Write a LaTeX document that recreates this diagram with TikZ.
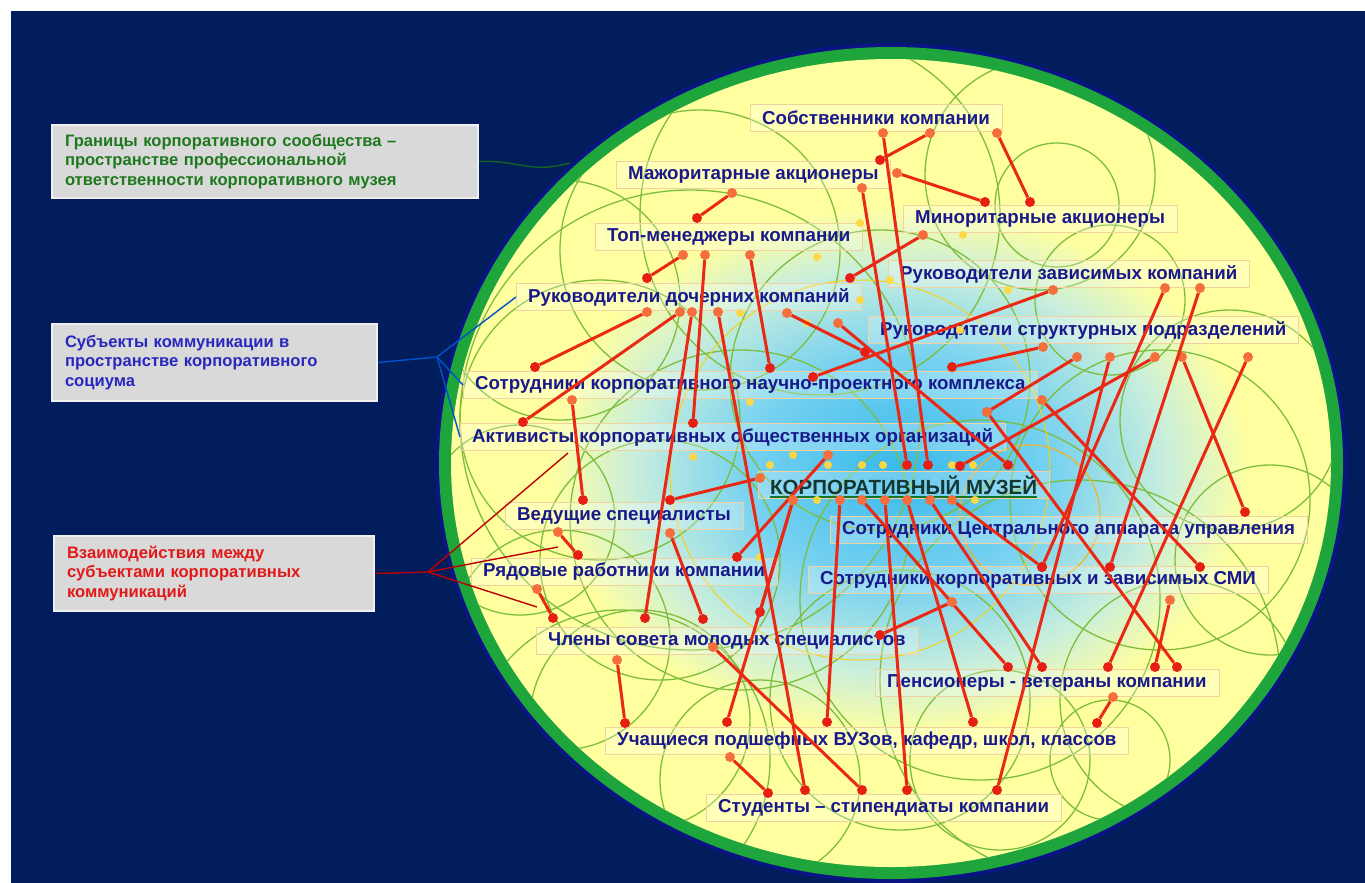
\documentclass[tikz,border=0pt]{standalone}
\usepackage{fontspec}
\setmainfont{Liberation Sans}
\usetikzlibrary{positioning}
\definecolor{navy}{RGB}{2,29,91}
\definecolor{rimdark}{RGB}{10,20,130}
\definecolor{rimgreen}{RGB}{30,165,60}
\definecolor{paleyellow}{RGB}{255,255,160}
\definecolor{glowA}{RGB}{55,185,235}
\definecolor{glowB}{RGB}{120,210,240}
\definecolor{glowC}{RGB}{200,238,220}
\definecolor{ringgreen}{RGB}{125,190,60}
\definecolor{ringorange}{RGB}{240,180,40}
\definecolor{lbltext}{RGB}{25,25,140}
\definecolor{boxline}{RGB}{240,210,160}
\definecolor{linkred}{RGB}{235,40,20}
\definecolor{dotred}{RGB}{230,30,20}
\definecolor{dotorange}{RGB}{245,110,60}
\definecolor{dotyellow}{RGB}{255,215,70}
\definecolor{legendfill}{RGB}{217,217,217}
\definecolor{legendgreen}{RGB}{30,120,30}
\definecolor{legendblue}{RGB}{40,40,190}
\definecolor{legendred}{RGB}{225,25,25}
\definecolor{museumtext}{RGB}{20,55,50}
\pgfdeclareradialshading{museumglow}{\pgfpoint{0bp}{0bp}}{color(0bp)=(glowA); color(11bp)=(glowB); color(19bp)=(glowC); color(25bp)=(paleyellow); color(50bp)=(paleyellow)}

\tikzset{
  lbl/.style={font=\fontsize{18.7}{20}\selectfont\bfseries, text=lbltext, draw=boxline,
    fill=white, fill opacity=0.25, text opacity=1, inner xsep=12pt, inner ysep=4pt,
    minimum height=27pt, anchor=west},
  legend/.style={font=\fontsize{16.6}{19.5}\selectfont\bfseries, fill=legendfill,
    draw=white!94!black, line width=2pt, align=left, inner xsep=13pt, anchor=north west},
  link/.style={draw=linkred, line width=3pt},
  rdot/.style={circle, fill=dotred, inner sep=0pt, minimum size=10pt},
  odot/.style={circle, fill=dotorange, inner sep=0pt, minimum size=10pt},
  ydot/.style={circle, fill=dotyellow, inner sep=0pt, minimum size=8pt},
  ring/.style={draw=ringgreen, line width=1.3pt},
  lead/.style={line width=1.4pt}
}

\begin{document}
\begin{tikzpicture}[x=1pt,y=-1pt]
\useasboundingbox (0,0) rectangle (1365,883);
\fill[white] (-5,-5) rectangle (1370,890);
\fill[navy] (11,11) rectangle (1370,890);

% border of the community
\fill[rimdark] (891,463) ellipse [x radius=456pt, y radius=420pt];
\fill[rimgreen] (891,463) ellipse [x radius=452pt, y radius=416pt];
\fill[paleyellow] (891,463) ellipse [x radius=440pt, y radius=404pt];
\shade[shading=museumglow] (900,470) ellipse [x radius=350pt, y radius=265pt];

\begin{scope}
\clip (891,463) ellipse [x radius=440pt, y radius=404pt];
\foreach \cx/\cy/\r in {1057/205/62, 1110/300/75, 1040/175/115, 700/250/140, 820/215/180,
  600/420/140, 660/560/120, 740/520/170, 560/640/110, 640/720/110, 760/780/100,
  900/700/130, 1000/760/90, 1110/760/60, 1180/700/120, 1270/560/95, 1160/500/150,
  980/600/180, 1230/420/110, 880/380/150, 520/520/95, 1080/680/200, 690/420/230,
  560/300/120, 620/760/150}
  \draw[ring] (\cx,\cy) circle [radius=\r pt];
\draw[ringorange, line width=1.2pt] (1030,515) circle [radius=70pt];
\draw[ringorange!60!yellow, line width=1pt] (860,470) circle [radius=190pt];
\end{scope}

% subjects
\node[lbl] (sob) at (750,118) {Собственники компании};
\node[lbl] (mazh) at (616,175) {Мажоритарные акционеры};
\node[lbl] (minor) at (903,219) {Миноритарные акционеры};
\node[lbl] (top) at (595,237) {Топ-менеджеры компании};
\node[lbl] (rzav) at (888,274) {Руководители зависимых компаний};
\node[lbl] (rdoch) at (516,297) {Руководители дочерних компаний};
\node[lbl] (rstr) at (868,330) {Руководители структурных подразделений};
\node[lbl] (nauch) at (463,385) {Сотрудники корпоративного научно-проектного комплекса};
\node[lbl] (aktiv) at (460,437) {Активисты корпоративных общественных организаций};
\node[lbl, text=museumtext, font=\fontsize{20.5}{22}\selectfont\bfseries] (muzei) at (758,485) {КОРПОРАТИВНЫЙ МУЗЕЙ};
\node[lbl] (vedu) at (505,516) {Ведущие специалисты};
\node[lbl] (central) at (830,530) {Сотрудники Центрального аппарата управления};
\node[lbl] (ryad) at (471,572) {Рядовые работники компании};
\node[lbl] (smi) at (808,580) {Сотрудники корпоративных и зависимых СМИ};
\node[lbl] (molod) at (536,641) {Члены совета молодых специалистов};
\node[lbl] (pens) at (875,683) {Пенсионеры - ветераны компании};
\node[lbl] (uch) at (605,741) {Учащиеся подшефных ВУЗов, кафедр, школ, классов};
\node[lbl] (stud) at (706,808) {Студенты – стипендиаты компании};
\draw[rimgreen!70!black, line width=1.5pt] ([xshift=12pt,yshift=-3pt]muzei.base west) -- ([xshift=-12pt,yshift=-3pt]muzei.base east);

% small yellow dots
\foreach \yx/\yy [count=\i] in {793/455, 770/465, 828/465, 862/465, 883/465, 952/465, 973/465,
  817/500, 975/500, 817/257, 860/223, 890/280, 860/300, 740/313, 807/323, 750/402,
  963/235, 1008/290, 693/457, 760/557, 960/330}
  \node[ydot] (y\i) at (\yx,\yy) {};

% interactions
\foreach \ax/\ay/\bx/\by [count=\i] in {883/133/928/465, 930/133/880/160, 997/133/1030/202,
  897/173/985/202, 732/193/697/218, 862/188/907/465, 683/255/647/278, 705/255/693/423,
  750/255/770/368, 923/235/850/278, 647/312/535/367, 680/312/523/422, 692/312/645/618,
  718/312/805/790, 787/313/865/352, 838/323/1008/465, 1053/290/813/377, 1043/347/952/367,
  1077/357/987/412, 1110/357/997/790, 1155/357/960/466, 1248/357/1108/667, 1182/357/1245/512,
  1165/288/1042/567, 1200/288/1110/567, 1042/400/1200/567, 987/412/1177/667, 572/400/583/500,
  558/532/578/555, 537/589/553/618, 670/533/703/619, 617/660/625/723, 730/757/768/793,
  713/647/862/790, 760/478/670/500, 828/455/737/557, 793/500/760/612, 793/500/727/722,
  840/500/827/722, 885/500/907/790, 907/500/973/722, 930/500/1042/667, 862/500/1008/667,
  952/500/1042/567, 1113/697/1097/723, 1170/600/1155/667, 952/602/880/635}
{
  \node[odot] (p\i) at (\ax,\ay) {};
  \node[rdot] (q\i) at (\bx,\by) {};
  \draw[link] (p\i) -- (q\i);
}

% legend
\node[legend, text=legendgreen, text width=400pt, minimum height=73pt] (lgA) at (51,124)
  {Границы корпоративного сообщества –\\пространстве профессиональной\\ответственности корпоративного музея};
\node[legend, text=legendblue, text width=299pt, minimum height=77pt] (lgB) at (51,323)
  {Субъекты коммуникации в\\пространстве корпоративного\\социума};
\node[legend, text=legendred, text width=294pt, minimum height=75pt] (lgC) at (53,535)
  {Взаимодействия между\\субъектами корпоративных\\коммуникаций};

\coordinate (rimA) at (570,163);
\coordinate (fanB) at (437,357);
\coordinate (fanC) at (428,572);
\coordinate (cA) at (568,453);
\coordinate (cB) at (558,547);
\coordinate (cC) at (537,607);
\draw[lead, rimgreen!60!black] (lgA.east) .. controls (520,160) and (530,174) .. (rimA);
\draw[lead, blue!60!cyan!80!black] (lgB.east) -- (fanB) -- (rdoch.west);
\draw[lead, blue!60!cyan!80!black] (fanB) -- (nauch.west);
\draw[lead, blue!60!cyan!80!black] (fanB) -- (aktiv.west);
\draw[lead, red!75!black] (lgC.east) -- (fanC) -- (cA);
\draw[lead, red!75!black] (fanC) -- (cB);
\draw[lead, red!75!black] (fanC) -- (cC);
\end{tikzpicture}
\end{document}
